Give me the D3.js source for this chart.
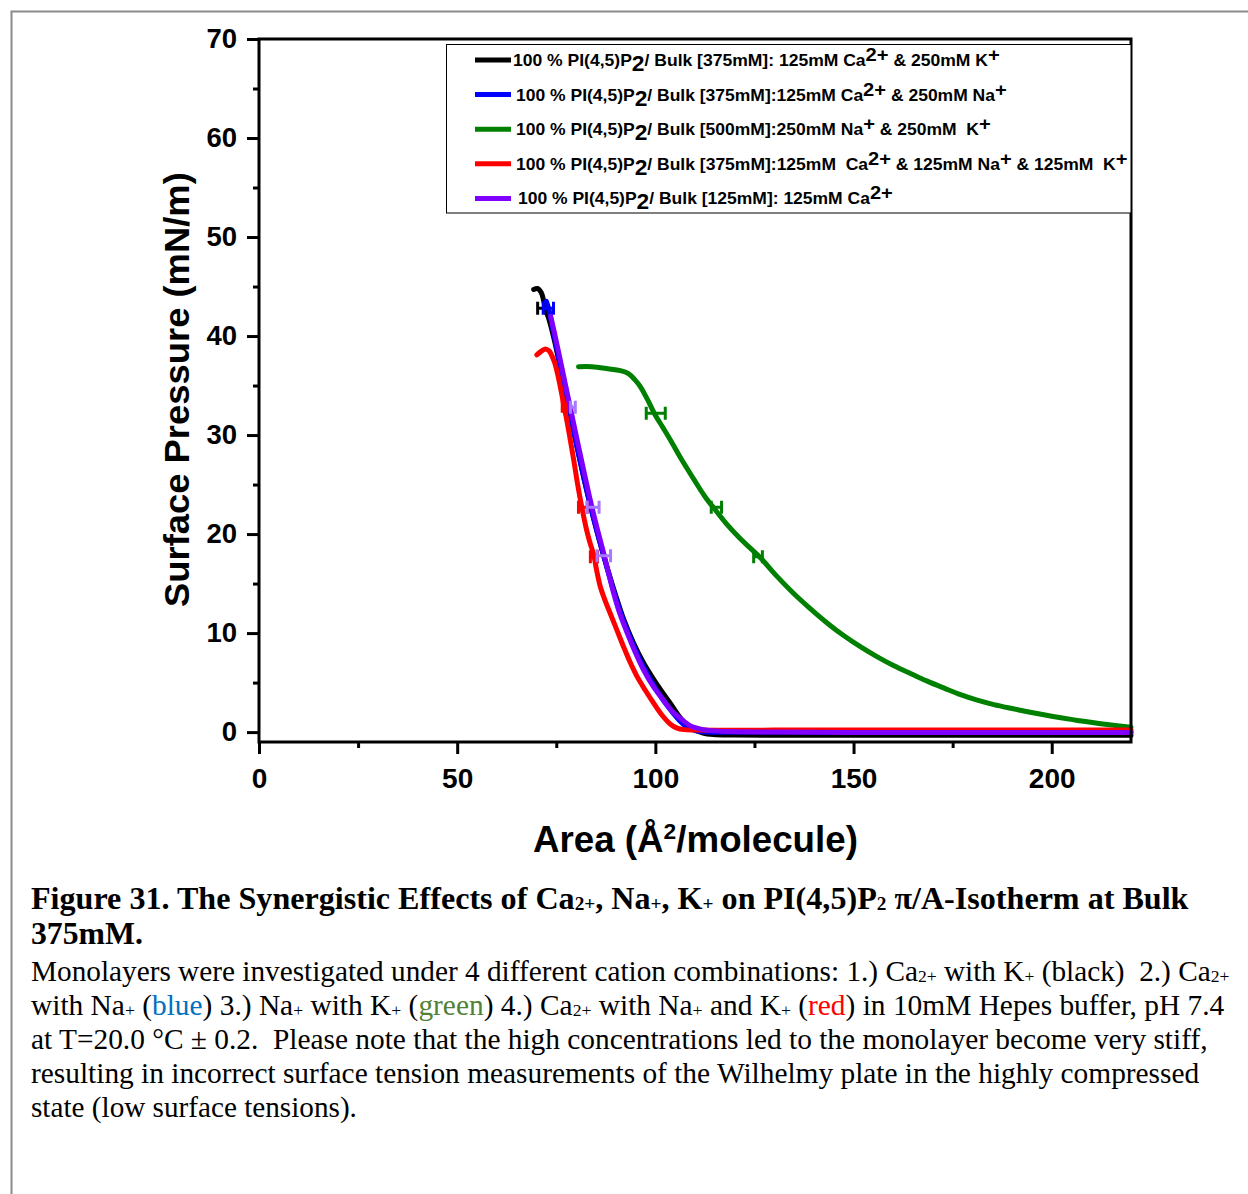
<!DOCTYPE html>
<html>
<head>
<meta charset="utf-8">
<script src="https://cdn.jsdelivr.net/npm/d3@7"></script>
<style>
  body { margin: 0; background: #fff; }
  svg { display: block; }
  text { white-space: pre; }
</style>
</head>
<body>
<svg id="drawing_region"></svg>
<script>
// isotherms: [area (A^2/molecule), surface pressure (mN/m)]
const caK = [[69.3,44.7],[70.3,44.8],[71.2,44.4],[71.8,43.6],[72.4,42.6],[73.3,41.5],[74.5,39.6],[76.0,36.8],
  [78.0,33.0],[80.0,29.3],[82.0,25.6],[84.0,22.3],[86.0,19.2],[88.0,16.4],[90.0,13.8],[92.0,11.4],[94.5,9.0],
  [97.0,7.0],[99.6,5.3],[101.8,4.0],[103.8,2.9],[106.0,1.6],[108.0,0.7],[110.0,0.2],[112.0,-0.1],[114.6,-0.25],
  [120,-0.3],[150,-0.32],[180,-0.32],[220,-0.32]];
const caNa = [[72.5,43.5],[73.2,42.6],[74.0,41.0],[75.0,39.0],[76.5,36.0],[78.3,32.5],[80.0,29.2],[82.0,25.6],
  [84.0,22.2],[86.0,19.2],[88.0,16.3],[90.0,13.6],[92.0,11.2],[94.0,9.2],[96.0,7.4],[98.5,5.5],[101.0,3.8],
  [103.5,2.4],[106.0,1.2],[108.0,0.5],[110.0,0.15],[113.0,0.0],[120,0.0],[160,0.0],[220,0.0]];
const naK = [[80.6,36.9],[84,36.9],[88,36.7],[91.2,36.5],[93.2,36.2],[94.8,35.6],[96.2,34.9],[98.0,33.6],
  [100.0,32.0],[102.0,30.7],[103.8,29.5],[106.5,27.6],[109.6,25.6],[112.5,23.8],[115.0,22.5],[118.0,21.0],
  [121.5,19.5],[126.5,17.6],[130.5,15.8],[134.9,14.0],[139.0,12.5],[143.4,11.0],[147.5,9.75],[151.8,8.6],
  [156.0,7.6],[160.2,6.7],[164.5,5.9],[168.6,5.15],[173.0,4.42],[177.0,3.78],[181.0,3.25],[185.4,2.78],
  [190.0,2.38],[193.9,2.06],[198.0,1.75],[202.3,1.45],[206.5,1.18],[210.7,0.94],[215.0,0.72],[220.0,0.5]];
const caNaK = [[70.1,38.1],[71.0,38.4],[72.2,38.7],[73.2,38.5],[73.9,38.0],[74.6,37.3],[75.2,36.4],[75.8,35.3],
  [76.4,34.1],[77.0,32.8],[77.7,31.4],[78.5,29.6],[79.4,27.5],[80.4,25.0],[81.5,22.6],[82.6,20.5],[83.6,19.0],
  [84.4,18.0],[85.2,16.3],[86.1,14.7],[87.3,13.3],[88.6,12.0],[90.3,10.3],[92.0,8.6],[93.7,7.0],[95.4,5.6],
  [97.5,4.2],[99.6,2.9],[101.7,1.7],[103.8,0.8],[105.5,0.4],[107.2,0.25],[110,0.2],[130,0.2],[160,0.2],
  [190,0.2],[220,0.2]];
const caOnly = [[73.6,42.0],[74.5,40.4],[76.0,37.6],[78.0,33.8],[80.0,30.0],[82.0,26.3],[83.6,23.4],[85.3,20.6],
  [87.0,18.0],[89.5,14.0],[91.0,12.0],[92.9,10.0],[95.0,8.0],[97.0,6.3],[99.5,4.6],[102.1,3.2],[104.5,2.0],
  [107.2,1.1],[109.0,0.6],[110.5,0.4],[113,0.2],[118.9,0.05],[130,0.0],[160,-0.05],[190,-0.05],[220,-0.05]];

// x error bars: [area, pressure, half width]
const caKErr = [[71.3,42.8,1.0]];
const caNaErr = [[73.0,42.8,1.3]];
const naKErr = [[100.1,32.2,2.4],[115.4,22.7,1.3],[125.9,17.7,1.1]];
const caNaKErr = [[77.1,32.9,0.6],[81.7,22.7,1.1],[84.5,17.7,0.9]];
const caOnlyErr = [[79.2,32.8,0.6],[84.3,22.7,1.5],[87.0,17.8,1.7]];

const xTicks = [0, 50, 100, 150, 200];
const xMinorTicks = [25, 75, 125, 175];
const yTicks = [0, 10, 20, 30, 40, 50, 60, 70];
const yMinorTicks = [5, 15, 25, 35, 45, 55, 65];

const legendRows = [
  [['100 % PI(4,5)P'], ['2','sub'], ['/ Bulk [375mM]: 125mM Ca'], ['2+','sup'], [' & 250mM K'], ['+','sup']],
  [['100 % PI(4,5)P'], ['2','sub'], ['/ Bulk [375mM]:125mM Ca'], ['2+','sup'], [' & 250mM Na'], ['+','sup']],
  [['100 % PI(4,5)P'], ['2','sub'], ['/ Bulk [500mM]:250mM Na'], ['+','sup'], [' & 250mM  K'], ['+','sup']],
  [['100 % PI(4,5)P'], ['2','sub'], ['/ Bulk [375mM]:125mM  Ca'], ['2+','sup'], [' & 125mM Na'], ['+','sup'], [' & 125mM  K'], ['+','sup']],
  [['100 % PI(4,5)P'], ['2','sub'], ['/ Bulk [125mM]: 125mM Ca'], ['2+','sup']]
];

const captionTitle = [
  [['Figure 31. The Synergistic Effects of Ca'], ['2+','small'], [', Na'], ['+','small'], [', K'], ['+','small'],
   [' on PI(4,5)P'], ['2','small'], [' \u03c0/A-Isotherm at Bulk']],
  [['375mM.']]
];
const captionBody = [
  [['Monolayers were investigated under 4 different cation combinations: 1.) Ca'], ['2+','small'], [' with K'],
   ['+','small'], [' (black)  2.) Ca'], ['2+','small']],
  [['with Na'], ['+','small'], [' ('], ['blue','blue'], [') 3.) Na'], ['+','small'], [' with K'], ['+','small'],
   [' ('], ['green','green'], [') 4.) Ca'], ['2+','small'], [' with Na'], ['+','small'], [' and K'], ['+','small'],
   [' ('], ['red','red'], [') in 10mM Hepes buffer, pH 7.4']],
  [['at T=20.0 \u00b0C \u00b1 0.2.  Please note that the high concentrations led to the monolayer become very stiff,']],
  [['resulting in incorrect surface tension measurements of the Wilhelmy plate in the highly compressed']],
  [['state (low surface tensions).']]
];

class IsothermPlot {

    constructor(config) {
        this.config = config;
        this.series = [
            { data: caK, err: caKErr, color: '#000000', errColor: '#000000' },
            { data: caNa, err: caNaErr, color: '#0000ff', errColor: '#0000ff' },
            { data: naK, err: naKErr, color: '#008000', errColor: '#008000' },
            { data: caNaK, err: caNaKErr, color: '#ff0000', errColor: '#ff0000' },
            { data: caOnly, err: caOnlyErr, color: '#7f00ff', errColor: '#a878ff' }
        ];
        this.init();
    }

    init() {
        let self = this;
        let p = self.config.plot;

        self.svg = d3.select(self.config.parent)
            .attr('width', self.config.width)
            .attr('height', self.config.height);

        self.svg.append('rect')
            .attr('width', self.config.width)
            .attr('height', self.config.height)
            .attr('fill', '#fff');

        // page frame (left + top only are visible)
        self.svg.append('path')
            .attr('d', `M11.5,${self.config.height} V11.5 H${self.config.width}`)
            .attr('fill', 'none')
            .attr('stroke', '#8a8a8a')
            .attr('stroke-width', 2);

        self.xscale = d3.scaleLinear().domain([0, 220]).range([p.left, p.right]);
        self.yscale = d3.scaleLinear().domain([-1, 70]).range([p.bottom, p.top]);

        self.chart = self.svg.append('g');
    }

    richText(parent, segments, size, kinds) {
        let text = parent.append('text').attr('font-size', size);
        let shift = 0;
        segments.forEach(s => {
            let k = kinds[s[1]] || {};
            let target = k.shift || 0;
            let ts = text.append('tspan').text(s[0]).attr('dy', target - shift);
            shift = target;
            if (k.scale) ts.attr('font-size', size * k.scale);
            if (k.fill) ts.attr('fill', k.fill);
        });
        return text;
    }

    fitLine(parent, segments, size, kinds, x, y, width, family, weight) {
        let g = parent.append('g')
            .attr('font-family', family)
            .attr('font-weight', weight);
        let text = this.richText(g, segments, size, kinds);
        let w = text.node().getBBox().width;
        g.attr('transform', `translate(${x},${y}) scale(${width / w},1)`);
        return g;
    }

    render() {
        let self = this;
        let p = self.config.plot;

        let line = d3.line()
            .x(d => self.xscale(d[0]))
            .y(d => self.yscale(d[1]))
            .curve(d3.curveCatmullRom.alpha(0.5));

        self.series.forEach(s => {
            self.chart.append('path')
                .datum(s.data)
                .attr('d', line)
                .attr('fill', 'none')
                .attr('stroke', s.color)
                .attr('stroke-width', 5)
                .attr('stroke-linejoin', 'round')
                .attr('stroke-linecap', 'round');

            self.chart.append('g')
                .attr('stroke', s.errColor)
                .attr('stroke-width', 3)
                .selectAll('path')
                .data(s.err)
                .join('path')
                .attr('fill', 'none')
                .attr('d', d => {
                    let x0 = self.xscale(d[0] - d[2]), x1 = self.xscale(d[0] + d[2]);
                    let y = self.yscale(d[1]);
                    return `M${x0},${y - 6.5}V${y + 6.5}M${x0},${y}H${x1}M${x1},${y - 6.5}V${y + 6.5}`;
                });
        });

        // frame
        self.chart.append('rect')
            .attr('x', p.left)
            .attr('y', p.top)
            .attr('width', p.right - p.left)
            .attr('height', p.bottom - p.top)
            .attr('fill', 'none')
            .attr('stroke', '#000')
            .attr('stroke-width', 3);

        let axisStyle = g => {
            g.select('.domain').remove();
            g.selectAll('line').attr('stroke', '#000').attr('stroke-width', 3);
            g.selectAll('text')
                .attr('font-family', 'Liberation Sans, Arial, sans-serif')
                .attr('font-weight', 'bold')
                .attr('fill', '#000');
        };

        self.chart.append('g')
            .attr('transform', `translate(0,${p.bottom})`)
            .call(d3.axisBottom(self.xscale).tickValues(xTicks).tickSize(12).tickPadding(14))
            .call(axisStyle)
            .selectAll('text').attr('font-size', 28);
        self.chart.append('g')
            .attr('transform', `translate(0,${p.bottom})`)
            .call(d3.axisBottom(self.xscale).tickValues(xMinorTicks).tickSize(6).tickFormat(''))
            .call(axisStyle);

        self.chart.append('g')
            .attr('transform', `translate(${p.left},0)`)
            .call(d3.axisLeft(self.yscale).tickValues(yTicks).tickSize(12).tickPadding(10))
            .call(axisStyle)
            .selectAll('text').attr('font-size', 27.5);
        self.chart.append('g')
            .attr('transform', `translate(${p.left},0)`)
            .call(d3.axisLeft(self.yscale).tickValues(yMinorTicks).tickSize(6).tickFormat(''))
            .call(axisStyle);

        // axis titles
        let sans = 'Liberation Sans, Arial, sans-serif';
        let xt = self.fitLine(self.chart,
            [['Area (\u00c5'], ['2', 'sup'], ['/molecule)']],
            36, { sup: { scale: 0.62, shift: -13 } }, 533, 852, 325, sans, 'bold');
        xt.select('text').selectAll('tspan').filter((d, i) => i === 2).attr('dy', 13);

        let yg = self.chart.append('g').attr('transform', 'translate(189,607) rotate(-90)');
        self.fitLine(yg, [['Surface Pressure (mN/m)']], 36, {}, 0, 0, 435, sans, 'bold');

        // legend
        let lg = self.chart.append('g');
        lg.append('rect')
            .attr('x', 446.5).attr('y', 44.5)
            .attr('width', p.right - 446.5).attr('height', 168.5)
            .attr('fill', '#fff')
            .attr('stroke', '#000')
            .attr('stroke-width', 1);
        let legendX = [513, 516, 516, 516, 518];
        let legendW = [487, 491, 475, 612, 375];
        let legendKinds = { sub: { scale: 1.3, shift: 5 }, sup: { scale: 1.15, shift: -5 } };
        legendRows.forEach((row, i) => {
            let y = 60 + i * 34.6;
            lg.append('line')
                .attr('x1', 475).attr('x2', 511)
                .attr('y1', y).attr('y2', y)
                .attr('stroke', self.series[i].color)
                .attr('stroke-width', 5);
            self.fitLine(lg, row, 16.5, legendKinds, legendX[i], y + 6, legendW[i], sans, 'bold');
        });

        // caption
        let serif = 'Liberation Serif, Times New Roman, serif';
        let capKinds = {
            small: { scale: 0.6, shift: 1 },
            blue: { fill: '#0070c0' },
            green: { fill: '#538135' },
            red: { fill: '#ff0000' }
        };
        let titleW = [1159, 112];
        captionTitle.forEach((row, i) => {
            self.fitLine(self.svg, row, 31, capKinds, 31, 909 + i * 35, titleW[i], serif, 'bold');
        });
        let bodyW = [1199, 1194, 1177, 1169, 326];
        captionBody.forEach((row, i) => {
            self.fitLine(self.svg, row, 29.5, capKinds, 31, 981 + i * 34, bodyW[i], serif, 'normal');
        });
    }
}

const plot = new IsothermPlot({
    parent: '#drawing_region',
    width: 1248,
    height: 1194,
    plot: { left: 259, top: 39, right: 1131, bottom: 742 }
});
plot.render();
</script>
</body>
</html>
